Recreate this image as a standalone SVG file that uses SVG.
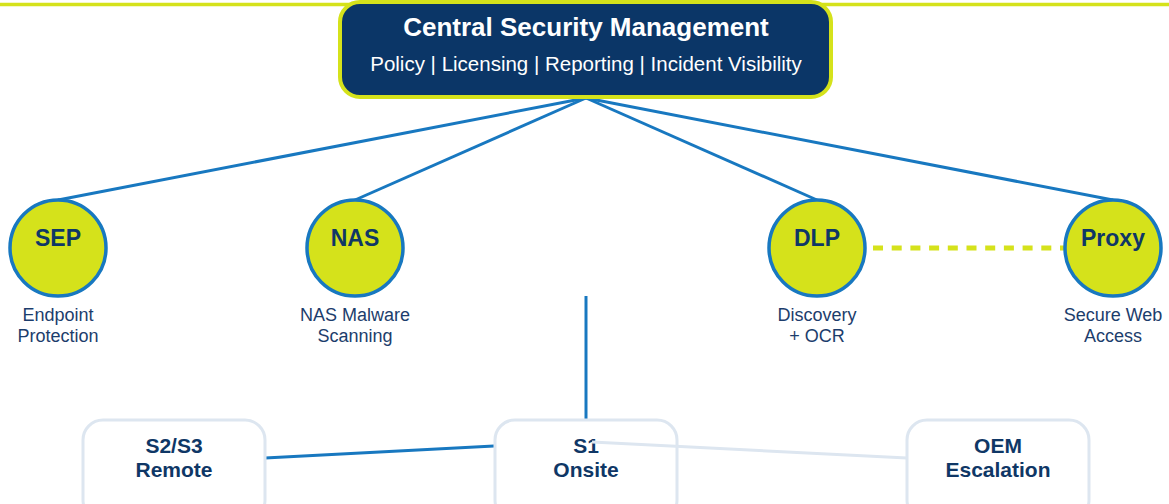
<svg xmlns="http://www.w3.org/2000/svg" width="1169" height="504" viewBox="0 0 1169 504">
<style>
.bg{fill:#ffffff}
.topbar{stroke:#d5e21b;stroke-width:3.6}
.hub{fill:#0b3667;stroke:#d5e21b;stroke-width:4}
.title{font-family:"Liberation Sans",Arial,sans-serif;font-weight:bold;font-size:26px;fill:#ffffff;text-anchor:middle}
.sub{font-family:"Liberation Sans",Arial,sans-serif;font-size:20.5px;fill:#ffffff;text-anchor:middle}
.circ{fill:#d5e21b;stroke:#1878c0;stroke-width:3.5}
.ctext{font-family:"Liberation Sans",Arial,sans-serif;font-weight:bold;font-size:23px;fill:#0f3766;text-anchor:middle}
.lbl{font-family:"Liberation Sans",Arial,sans-serif;font-size:18px;fill:#1c3d6c;text-anchor:middle}
.box{fill:#ffffff;stroke:#dde6f0;stroke-width:3}
.btext{font-family:"Liberation Sans",Arial,sans-serif;font-weight:bold;font-size:21px;fill:#0f3766;text-anchor:middle}
.blue{stroke:#1878c0;stroke-width:3;fill:none}
.gray{stroke:#dde6f0;stroke-width:3;fill:none}
.dash{stroke:#d5e21b;stroke-width:5;stroke-dasharray:10 8.7;fill:none}
</style>
<rect class="bg" x="0" y="0" width="1169" height="504"/>
<line class="topbar" x1="0" y1="4.5" x2="1169" y2="4.5"/>
<g id="connectors-back">
<line class="blue" x1="586" y1="98" x2="58" y2="200"/>
<line class="blue" x1="586" y1="98" x2="355" y2="200"/>
<line class="blue" x1="586" y1="98" x2="817" y2="200"/>
<line class="blue" x1="586" y1="98" x2="1113" y2="200"/>
<line class="dash" x1="873" y1="248" x2="1064" y2="248"/>
<line class="blue" x1="586" y1="296" x2="586" y2="420"/>
<line class="blue" x1="265" y1="458" x2="494" y2="446"/>
</g>
<g id="central">
<rect class="hub" x="340" y="2" width="491" height="95" rx="20" ry="20"/>
<text class="title" x="586" y="36">Central Security Management</text>
<text class="sub" x="586" y="71">Policy | Licensing | Reporting | Incident Visibility</text>
</g>
<g id="sep">
<circle class="circ" cx="58" cy="248" r="48"/>
<text class="ctext" x="58" y="246">SEP</text>
<text class="lbl" x="58" y="321">Endpoint</text>
<text class="lbl" x="58" y="342">Protection</text>
</g>
<g id="nas">
<circle class="circ" cx="355" cy="248" r="48"/>
<text class="ctext" x="355" y="246">NAS</text>
<text class="lbl" x="355" y="321">NAS Malware</text>
<text class="lbl" x="355" y="342">Scanning</text>
</g>
<g id="dlp">
<circle class="circ" cx="817" cy="248" r="48"/>
<text class="ctext" x="817" y="246">DLP</text>
<text class="lbl" x="817" y="321">Discovery</text>
<text class="lbl" x="817" y="342">+ OCR</text>
</g>
<g id="proxy">
<circle class="circ" cx="1113" cy="248" r="48"/>
<text class="ctext" x="1113" y="246">Proxy</text>
<text class="lbl" x="1113" y="321">Secure Web</text>
<text class="lbl" x="1113" y="342">Access</text>
</g>
<g id="s2s3">
<rect class="box" x="83" y="420" width="182" height="100" rx="20" ry="20"/>
<text class="btext" x="174" y="453">S2/S3</text>
<text class="btext" x="174" y="477">Remote</text>
</g>
<g id="s1">
<rect class="box" x="495" y="420" width="182" height="100" rx="20" ry="20"/>
<text class="btext" x="586" y="453">S1</text>
<text class="btext" x="586" y="477">Onsite</text>
</g>
<g id="oem">
<rect class="box" x="907" y="420" width="182" height="100" rx="20" ry="20"/>
<text class="btext" x="998" y="453">OEM</text>
<text class="btext" x="998" y="477">Escalation</text>
</g>
<g id="connectors-front">
<line class="gray" x1="592" y1="442" x2="907" y2="458"/>
</g>
</svg>
